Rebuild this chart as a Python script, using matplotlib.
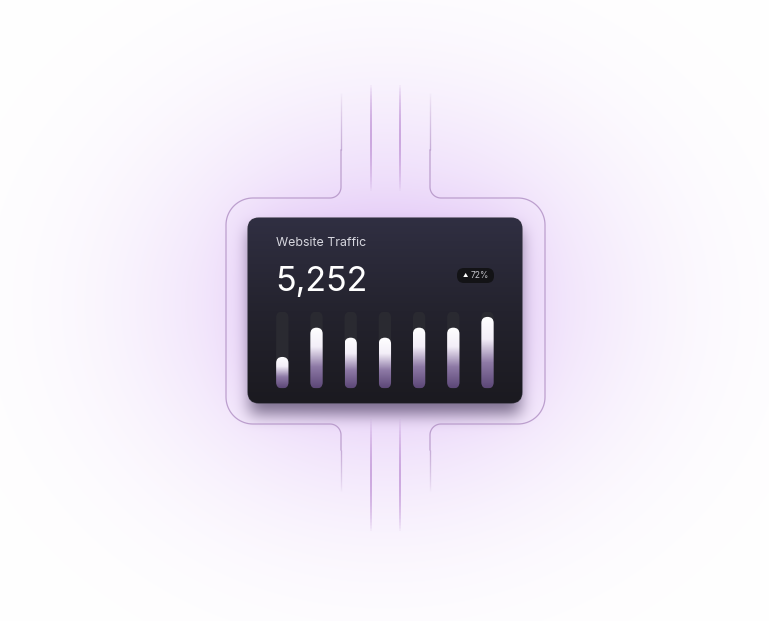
import numpy as np
import matplotlib.pyplot as plt
from matplotlib.patches import FancyBboxPatch
from matplotlib.collections import LineCollection
from matplotlib.colors import LinearSegmentedColormap

# card content
title = "Website Traffic"
total = "5,252"
change = "72%"
days = ["Mon", "Tue", "Wed", "Thu", "Fri", "Sat", "Sun"]
traffic = [0.41, 0.79, 0.66, 0.66, 0.79, 0.79, 0.93]   # share of the track that is filled

W, H = 769, 621
fig = plt.figure(figsize=(W / 100, H / 100), dpi=100)
ax = fig.add_axes([0, 0, 1, 1])
ax.set_xlim(0, W)
ax.set_ylim(H, 0)
ax.axis("off")

FONT = ["Inter", "DejaVu Sans"]


def box(a, r, axis):
    pad = [(0, 0), (0, 0)]
    pad[axis] = (r + 1, r)
    c = np.cumsum(np.pad(a, pad, mode="edge"), axis=axis)
    if axis == 0:
        return (c[2 * r + 1:] - c[:-2 * r - 1]) / (2 * r + 1)
    return (c[:, 2 * r + 1:] - c[:, :-2 * r - 1]) / (2 * r + 1)


def blur(a, r, n=3):
    for _ in range(n):
        a = box(box(a, r, 0), r, 1)
    return a


# background: white with a soft purple glow and the card shadow
yy, xx = np.mgrid[0:H, 0:W] + 0.5
glow = np.exp(-(((xx - 386) / 245) ** 2 + ((yy - 305) / 210) ** 2) * 1.2)
card_mask = ((xx > 248) & (xx < 522) & (yy > 218) & (yy < 403)).astype(float)
halo = blur(card_mask, 22)
shadow = blur(((xx > 250) & (xx < 520) & (yy > 230) & (yy < 414)).astype(float), 7)

img = np.ones((H, W, 3))
purple = np.array([222, 190, 246]) / 255
a = 0.75 * glow
img = img * (1 - a[..., None]) + purple * a[..., None]
a = 0.38 * halo
img = img * (1 - a[..., None]) + np.array([214, 176, 240]) / 255 * a[..., None]
a = 0.6 * shadow
img = img * (1 - a[..., None]) + np.array([50, 40, 70]) / 255 * a[..., None]
ax.imshow(img, extent=(0, W, H, 0), origin="upper", aspect="auto", zorder=0)


# outline shape around the card
def arc(cx, cy, r, t0, t1):
    t = np.radians(np.linspace(t0, t1, 20))
    return np.column_stack([cx + r * np.cos(t), cy + r * np.sin(t)])


left = np.vstack([
    [[341, 150]],
    arc(330, 187, 11, 0, 90),
    arc(253, 225, 27, -90, -180),
    arc(253, 397, 27, 180, 90),
    arc(330, 435, 11, -90, 0),
    [[341, 450]],
])
right = left.copy()
right[:, 0] = 771 - right[:, 0]
for pts in (left, right):
    ax.plot(pts[:, 0], pts[:, 1], color="#b393c6", lw=0.9, alpha=0.85, zorder=2)


def fade_line(x, y0, y1, prof, color, lw):
    ys = np.linspace(y0, y1, 80)
    segs = [[(x, ys[i]), (x, ys[i + 1])] for i in range(len(ys) - 1)]
    t = np.linspace(0, 1, len(segs))
    cols = np.zeros((len(segs), 4))
    cols[:, :3] = np.array([int(color[i:i + 2], 16) for i in (1, 3, 5)]) / 255
    cols[:, 3] = prof(t)
    ax.add_collection(LineCollection(segs, colors=cols, linewidths=lw, zorder=2))


# outer verticals (fade away from the outline)
for x in (341, 430):
    fade_line(x, 92, 150, lambda t: 0.85 * t ** 0.8, "#b393c6", 0.9)
    fade_line(x, 450, 492, lambda t: 0.85 * (1 - t) ** 0.8, "#b393c6", 0.9)
# inner verticals
for x in (371, 400):
    fade_line(x, 84, 192, lambda t: 0.9 * np.sin(np.pi * t) ** 0.7, "#c49ad9", 1.3)
    fade_line(x, 418, 532, lambda t: 0.9 * np.sin(np.pi * t) ** 0.7, "#c49ad9", 1.3)

# card
card = FancyBboxPatch((248, 218), 274, 185, boxstyle="round,pad=0,rounding_size=11",
                      fc="#23222c", ec="#3a3944", lw=0.8, zorder=3)
ax.add_patch(card)
grad = np.linspace(0, 1, 200)[:, None]
card_cmap = LinearSegmentedColormap.from_list("card", ["#302f42", "#24232e", "#1b1a20"])
im = ax.imshow(grad, extent=(248, 522, 403, 218), origin="upper", aspect="auto",
               cmap=card_cmap, zorder=3)
im.set_clip_path(card)

ax.text(276, 246, title, color="#d6d6de", fontsize=8.9, family=FONT, zorder=5)
ax.text(275, 291, total, color="white", fontsize=24.5, family=FONT, zorder=5)

badge = FancyBboxPatch((457, 268), 37, 15, boxstyle="round,pad=0,rounding_size=7",
                       fc="#131316", ec="none", zorder=4)
ax.add_patch(badge)
ax.text(465.5, 275.8, "\u25b2", color="white", fontsize=3.8, ha="center", va="center",
        family=FONT, zorder=5)
ax.text(471, 276, change, color="#c3c3ca", fontsize=6.1, va="center", family=FONT, zorder=5)

# bar chart inside the card
bx0, bx1, by0, by1 = 265.2, 504.6, 388.5, 311.5
bax = fig.add_axes([bx0 / W, (H - by0) / H, (bx1 - bx0) / W, (by0 - by1) / H])
bax.set_xlim(-0.5, len(days) - 0.5)
bax.set_ylim(0, 1)
bax.axis("off")
bax.patch.set_alpha(0)
bax.set_zorder(5)

bw = 0.36
asp = ((bx1 - bx0) / len(days)) / (by0 - by1)   # y-units per x-unit in pixels
bar_cmap = LinearSegmentedColormap.from_list(
    "bar", [(0, "#5d4878"), (0.35, "#8e7aa6"), (0.68, "#f3eef8"), (1, "white")])
xs = np.arange(len(days))
for x, v in zip(xs, traffic):
    track = FancyBboxPatch((x - bw / 2, 0), bw, 1,
                           boxstyle=f"round,pad=0,rounding_size={bw / 2}",
                           mutation_aspect=asp, fc="#2a2a31", ec="none", zorder=1)
    bax.add_patch(track)
    bar = FancyBboxPatch((x - bw / 2, 0), bw, v,
                         boxstyle=f"round,pad=0,rounding_size={bw / 2}",
                         mutation_aspect=asp, fc="none", ec="none", zorder=2)
    bax.add_patch(bar)
    g = bax.imshow(np.linspace(0, 1, 100)[:, None], extent=(x - bw / 2, x + bw / 2, 0, v),
                   origin="lower", aspect="auto", cmap=bar_cmap, zorder=2)
    g.set_clip_path(bar)
bax.set_xlim(-0.5, len(days) - 0.5)
bax.set_ylim(0, 1)

fig.savefig("out.png", dpi=100)
